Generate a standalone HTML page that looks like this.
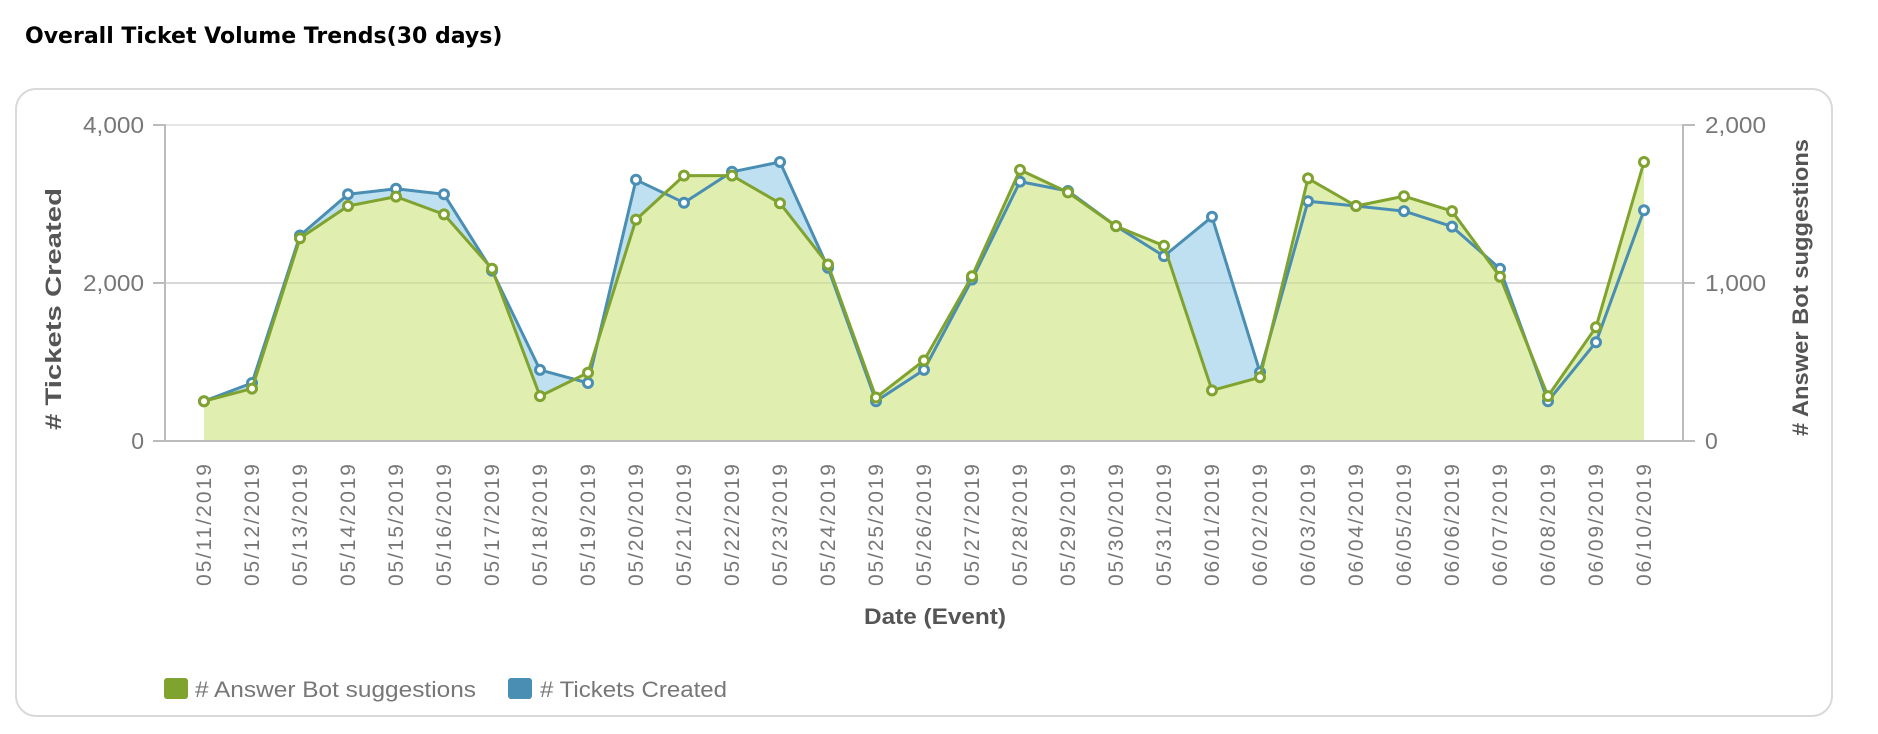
<!DOCTYPE html>
<html><head><meta charset="utf-8"><style>
html,body{margin:0;padding:0;background:#fff;}
body{width:1878px;height:734px;overflow:hidden;position:relative;font-family:"Liberation Sans",sans-serif;}
</style></head><body>
<svg width="1878" height="734" xmlns="http://www.w3.org/2000/svg" style="position:absolute;left:0;top:0">
<defs>
<marker id="mg" markerUnits="userSpaceOnUse" markerWidth="14" markerHeight="14" refX="7" refY="7"><circle cx="7" cy="7" r="4.5" fill="#fff" stroke="#7fa32e" stroke-width="3"/></marker>
<marker id="mb" markerUnits="userSpaceOnUse" markerWidth="14" markerHeight="14" refX="7" refY="7"><circle cx="7" cy="7" r="4.5" fill="#fff" stroke="#4a8fb3" stroke-width="3"/></marker>
</defs>
<text x="25" y="43" font-size="22" font-weight="bold" fill="#000" font-family="DejaVu Sans, sans-serif">Overall Ticket Volume Trends(30 days)</text>
<rect x="16" y="89" width="1816" height="627" rx="20" fill="#fff" stroke="#d9d9d9" stroke-width="2"/>
<line x1="165" y1="125" x2="1683" y2="125" stroke="#e6e6e6" stroke-width="2"/>
<line x1="165" y1="283" x2="1683" y2="283" stroke="#e6e6e6" stroke-width="2"/>
<polygon fill="#bfe0f0" points="204,440 204,401.2 252,383.0 300,235.5 348,194.3 396,188.7 444,194.3 492,270.6 540,369.9 588,383.0 636,179.8 684,202.7 732,171.8 780,162.0 828,267.8 876,401.2 924,369.9 972,279.5 1020,181.6 1068,191.0 1116,226.1 1164,256.1 1212,216.8 1260,372.2 1308,201.3 1356,206.0 1404,211.1 1452,226.6 1500,268.7 1548,401.2 1596,342.2 1644,210.2 1644,440"/>
<polygon fill="#e0eeb0" points="204,440 204,401.2 252,388.6 300,238.3 348,206.0 396,196.6 444,214.4 492,268.7 540,396.1 588,372.7 636,219.6 684,175.6 732,175.6 780,203.2 828,264.5 876,397.5 924,360.5 972,276.2 1020,169.9 1068,192.4 1116,226.1 1164,245.8 1212,390.4 1260,377.3 1308,178.4 1356,206.0 1404,196.2 1452,211.1 1500,276.7 1548,396.1 1596,327.2 1644,162.0 1644,440"/>
<line x1="165" y1="283" x2="1683" y2="283" stroke="#000" stroke-opacity="0.06" stroke-width="2"/>
<polyline fill="none" stroke="#4a8fb3" stroke-width="3" stroke-linejoin="round" marker-start="url(#mb)" marker-mid="url(#mb)" marker-end="url(#mb)" points="204,401.2 252,383.0 300,235.5 348,194.3 396,188.7 444,194.3 492,270.6 540,369.9 588,383.0 636,179.8 684,202.7 732,171.8 780,162.0 828,267.8 876,401.2 924,369.9 972,279.5 1020,181.6 1068,191.0 1116,226.1 1164,256.1 1212,216.8 1260,372.2 1308,201.3 1356,206.0 1404,211.1 1452,226.6 1500,268.7 1548,401.2 1596,342.2 1644,210.2"/>
<polyline fill="none" stroke="#7fa32e" stroke-width="3" stroke-linejoin="round" marker-start="url(#mg)" marker-mid="url(#mg)" marker-end="url(#mg)" points="204,401.2 252,388.6 300,238.3 348,206.0 396,196.6 444,214.4 492,268.7 540,396.1 588,372.7 636,219.6 684,175.6 732,175.6 780,203.2 828,264.5 876,397.5 924,360.5 972,276.2 1020,169.9 1068,192.4 1116,226.1 1164,245.8 1212,390.4 1260,377.3 1308,178.4 1356,206.0 1404,196.2 1452,211.1 1500,276.7 1548,396.1 1596,327.2 1644,162.0"/>
<g stroke="#bbb" stroke-width="2" fill="none">
<line x1="165" y1="124" x2="165" y2="441"/><line x1="1683" y1="124" x2="1683" y2="441"/>
<line x1="165" y1="441" x2="1683" y2="441"/>
<line x1="153" y1="125" x2="165" y2="125"/><line x1="153" y1="283" x2="165" y2="283"/><line x1="153" y1="441" x2="165" y2="441"/>
<line x1="1683" y1="125" x2="1695" y2="125"/><line x1="1683" y1="283" x2="1695" y2="283"/><line x1="1683" y1="441" x2="1695" y2="441"/>
</g>
<g font-size="23" fill="#777" text-anchor="end">
<text x="144" y="133" textLength="61" lengthAdjust="spacingAndGlyphs">4,000</text><text x="144" y="291" textLength="61" lengthAdjust="spacingAndGlyphs">2,000</text><text x="144" y="449">0</text>
</g>
<g font-size="23" fill="#777" text-anchor="start">
<text x="1705" y="133" textLength="61" lengthAdjust="spacingAndGlyphs">2,000</text><text x="1705" y="291" textLength="61" lengthAdjust="spacingAndGlyphs">1,000</text><text x="1705" y="449">0</text>
</g>
<text transform="translate(61,430) rotate(-90)" font-size="22" font-weight="bold" fill="#555" textLength="242" lengthAdjust="spacingAndGlyphs">#  Tickets Created</text>
<text transform="translate(1808,436) rotate(-90)" font-size="22" font-weight="bold" fill="#555" textLength="297" lengthAdjust="spacingAndGlyphs">#  Answer Bot suggestions</text>
<g font-size="21" fill="#777" text-anchor="end" lengthAdjust="spacingAndGlyphs">
<text transform="translate(211,464) rotate(-90)" textLength="122">05/11/2019</text>
<text transform="translate(259,464) rotate(-90)" textLength="122">05/12/2019</text>
<text transform="translate(307,464) rotate(-90)" textLength="122">05/13/2019</text>
<text transform="translate(355,464) rotate(-90)" textLength="122">05/14/2019</text>
<text transform="translate(403,464) rotate(-90)" textLength="122">05/15/2019</text>
<text transform="translate(451,464) rotate(-90)" textLength="122">05/16/2019</text>
<text transform="translate(499,464) rotate(-90)" textLength="122">05/17/2019</text>
<text transform="translate(547,464) rotate(-90)" textLength="122">05/18/2019</text>
<text transform="translate(595,464) rotate(-90)" textLength="122">05/19/2019</text>
<text transform="translate(643,464) rotate(-90)" textLength="122">05/20/2019</text>
<text transform="translate(691,464) rotate(-90)" textLength="122">05/21/2019</text>
<text transform="translate(739,464) rotate(-90)" textLength="122">05/22/2019</text>
<text transform="translate(787,464) rotate(-90)" textLength="122">05/23/2019</text>
<text transform="translate(835,464) rotate(-90)" textLength="122">05/24/2019</text>
<text transform="translate(883,464) rotate(-90)" textLength="122">05/25/2019</text>
<text transform="translate(931,464) rotate(-90)" textLength="122">05/26/2019</text>
<text transform="translate(979,464) rotate(-90)" textLength="122">05/27/2019</text>
<text transform="translate(1027,464) rotate(-90)" textLength="122">05/28/2019</text>
<text transform="translate(1075,464) rotate(-90)" textLength="122">05/29/2019</text>
<text transform="translate(1123,464) rotate(-90)" textLength="122">05/30/2019</text>
<text transform="translate(1171,464) rotate(-90)" textLength="122">05/31/2019</text>
<text transform="translate(1219,464) rotate(-90)" textLength="122">06/01/2019</text>
<text transform="translate(1267,464) rotate(-90)" textLength="122">06/02/2019</text>
<text transform="translate(1315,464) rotate(-90)" textLength="122">06/03/2019</text>
<text transform="translate(1363,464) rotate(-90)" textLength="122">06/04/2019</text>
<text transform="translate(1411,464) rotate(-90)" textLength="122">06/05/2019</text>
<text transform="translate(1459,464) rotate(-90)" textLength="122">06/06/2019</text>
<text transform="translate(1507,464) rotate(-90)" textLength="122">06/07/2019</text>
<text transform="translate(1555,464) rotate(-90)" textLength="122">06/08/2019</text>
<text transform="translate(1603,464) rotate(-90)" textLength="122">06/09/2019</text>
<text transform="translate(1651,464) rotate(-90)" textLength="122">06/10/2019</text>
</g>
<text x="864" y="624" font-size="22" font-weight="bold" fill="#555" textLength="142" lengthAdjust="spacingAndGlyphs">Date (Event)</text>
<rect x="164" y="678" width="24" height="21" rx="3" fill="#7fa32e"/>
<text x="195" y="697" font-size="22" fill="#777" textLength="281" lengthAdjust="spacingAndGlyphs">#  Answer Bot suggestions</text>
<rect x="508" y="678" width="24" height="21" rx="3" fill="#4a8fb3"/>
<text x="540" y="697" font-size="22" fill="#777" textLength="187" lengthAdjust="spacingAndGlyphs">#  Tickets Created</text>
</svg>
</body></html>
